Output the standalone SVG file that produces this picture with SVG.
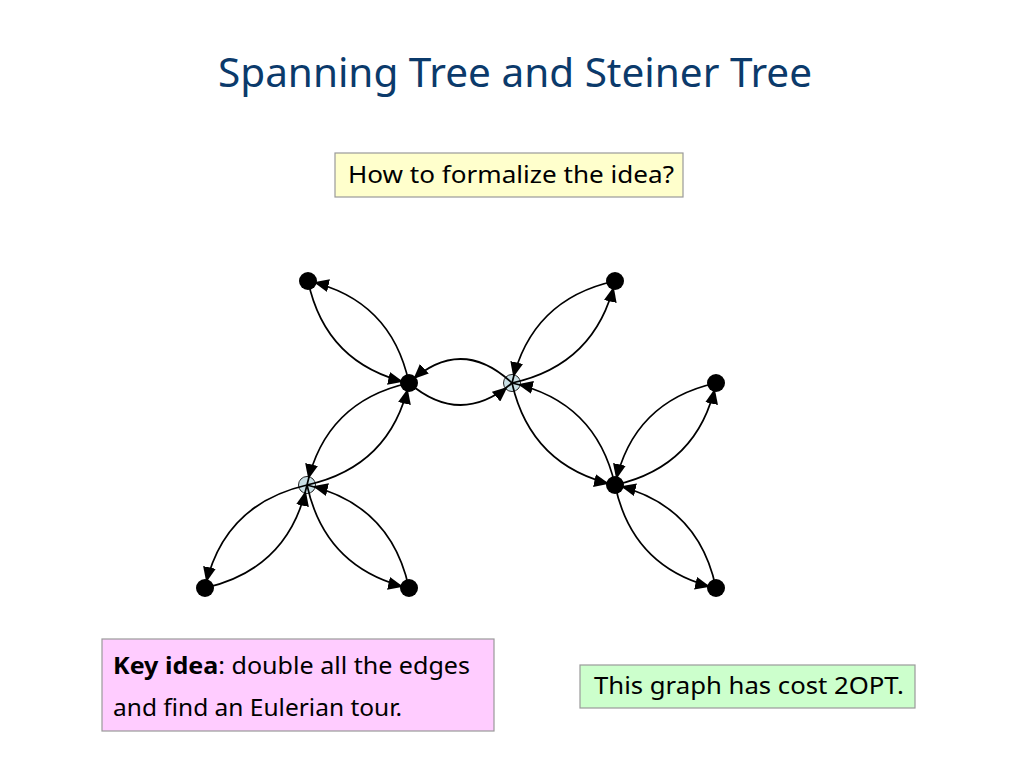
<svg xmlns="http://www.w3.org/2000/svg" width="1024" height="768" viewBox="0 0 1024 768">
<style>
.title{font-family:"Noto Sans","Liberation Sans",sans-serif;font-size:40px;fill:#0b3a6b}
.t{font-family:"Noto Sans","Liberation Sans",sans-serif;font-size:23px;fill:#000}
.b{font-weight:bold}
.box{stroke:#9a9a9a;stroke-width:1.2}
.term{fill:#000}
.stein{fill:#c9dfe5;stroke:#222;stroke-width:1}
.e{fill:none;stroke:#000;stroke-width:1.7;marker-end:url(#ah)}
</style>
<defs>
<marker id="ah" markerUnits="userSpaceOnUse" markerWidth="16" markerHeight="13" viewBox="0 0 16 13" refX="21" refY="6.5" orient="auto">
<path d="M0,0 L15,6.5 L0,13 z" fill="#000"/>
</marker>
</defs>
<rect width="1024" height="768" fill="#fff"/>
<text class="title" x="515" y="87" text-anchor="middle" textLength="594" lengthAdjust="spacingAndGlyphs">Spanning Tree and Steiner Tree</text>

<g id="box-question">
<rect class="box" x="335" y="153" width="348" height="44" fill="#ffffcc"/>
<text class="t" x="348" y="183" textLength="326" lengthAdjust="spacingAndGlyphs">How to formalize the idea?</text>
</g>

<g id="nodes">
<g id="nA"><circle class="term" cx="308" cy="281" r="9"/></g>
<g id="nB"><circle class="term" cx="409" cy="383" r="9"/></g>
<g id="nC"><circle class="stein" cx="512" cy="383" r="8.5"/></g>
<g id="nD"><circle class="term" cx="615" cy="281" r="9"/></g>
<g id="nE"><circle class="term" cx="716" cy="383" r="9"/></g>
<g id="nF"><circle class="term" cx="615" cy="485" r="9"/></g>
<g id="nG"><circle class="stein" cx="307" cy="485" r="8.5"/></g>
<g id="nH"><circle class="term" cx="205" cy="588" r="9"/></g>
<g id="nI"><circle class="term" cx="409" cy="588" r="9"/></g>
<g id="nJ"><circle class="term" cx="716" cy="588" r="9"/></g>
</g>

<g id="connectors">
<path class="e" d="M308,281 Q325.8,364.4 409,383"/>
<path class="e" d="M409,383 Q391.2,299.6 308,281"/>
<path class="e" d="M409,383 Q460.5,427 512,383"/>
<path class="e" d="M512,383 Q460.5,335 409,383"/>
<path class="e" d="M512,383 Q595.8,364.7 615,281"/>
<path class="e" d="M615,281 Q531.2,299.3 512,383"/>
<path class="e" d="M512,383 Q531.1,466.7 615,485"/>
<path class="e" d="M615,485 Q595.9,401.3 512,383"/>
<path class="e" d="M615,485 Q698.2,466.4 716,383"/>
<path class="e" d="M716,383 Q632.8,401.6 615,485"/>
<path class="e" d="M615,485 Q632.7,568.7 716,588"/>
<path class="e" d="M716,588 Q698.3,504.3 615,485"/>
<path class="e" d="M409,383 Q325.5,401.5 307,485"/>
<path class="e" d="M307,485 Q390.5,466.5 409,383"/>
<path class="e" d="M307,485 Q223.3,504.2 205,588"/>
<path class="e" d="M205,588 Q288.7,568.8 307,485"/>
<path class="e" d="M307,485 Q325.3,568.8 409,588"/>
<path class="e" d="M409,588 Q390.7,504.2 307,485"/>
</g>

<g id="box-keyidea">
<rect class="box" x="102" y="639" width="392" height="92" fill="#ffccff"/>
<text class="t" x="113" y="674" textLength="357" lengthAdjust="spacingAndGlyphs"><tspan class="b">Key idea</tspan>: double all the edges</text>
<text class="t" x="113" y="716" textLength="289" lengthAdjust="spacingAndGlyphs">and find an Eulerian tour.</text>
</g>

<g id="box-cost">
<rect class="box" x="580" y="665" width="335" height="43" fill="#ccffcc"/>
<text class="t" x="594" y="694" textLength="310" lengthAdjust="spacingAndGlyphs">This graph has cost 2OPT.</text>
</g>
</svg>
